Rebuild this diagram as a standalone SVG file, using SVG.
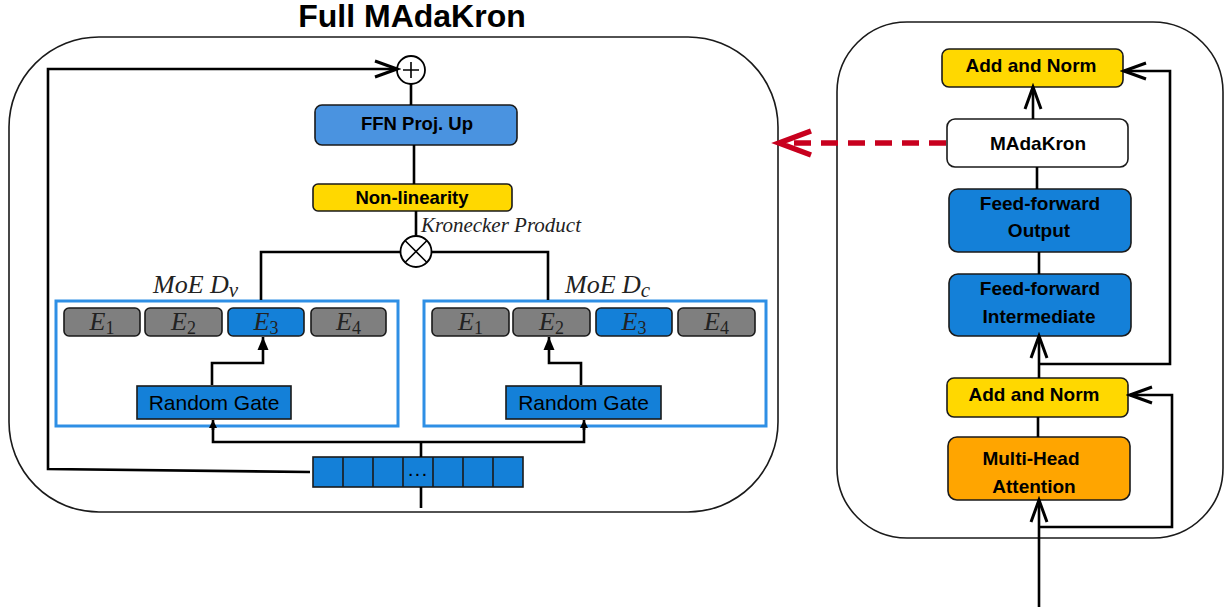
<svg xmlns="http://www.w3.org/2000/svg" width="1226" height="613" viewBox="0 0 1226 613">
<style>
.panel{fill:#fff;stroke:#1a1a1a;stroke-width:1.6}
.box{stroke:#1a1a1a;stroke-width:1.6}
.blue{fill:#1480D8}
.lblue{fill:#4A93E0}
.gold{fill:#FFD800}
.orange{fill:#FFA500}
.white{fill:#fff}
.gray{fill:#7F7F7F}
.moe{fill:#fff;stroke:#2E8FE5;stroke-width:3}
.ln{fill:none;stroke:#000;stroke-width:2.6}
.bt{font-family:"Liberation Sans",Arial,sans-serif;font-weight:bold;fill:#000;text-anchor:middle}
.rt{font-family:"Liberation Sans",Arial,sans-serif;font-size:21px;fill:#000;text-anchor:middle}
.it{font-family:"Liberation Serif","Times New Roman",serif;font-style:italic;fill:#222}
.ex{font-family:"Liberation Serif","Times New Roman",serif;font-style:italic;font-size:26px;fill:#222;text-anchor:middle}
.sub{font-style:normal;font-size:18px}
</style>
<defs>
<marker id="chev" markerUnits="userSpaceOnUse" viewBox="-26 -12 30 24" markerWidth="30" markerHeight="24" refX="0" refY="0" orient="auto">
<path d="M-22,-8 L0,0 L-22,8" fill="none" stroke="#000" stroke-width="3"/>
</marker>
<marker id="tri" markerUnits="userSpaceOnUse" viewBox="-14 -8 16 16" markerWidth="16" markerHeight="16" refX="0" refY="0" orient="auto">
<path d="M-13,-5.5 L0,0 L-13,5.5 Z" fill="#000"/>
</marker>
<marker id="tris" markerUnits="userSpaceOnUse" viewBox="-10 -6 12 12" markerWidth="12" markerHeight="12" refX="0" refY="0" orient="auto">
<path d="M-8,-4 L0,0 L-8,4 Z" fill="#000"/>
</marker>
</defs>

<text x="412" y="27" class="bt" font-size="32">Full MAdaKron</text>

<rect id="left-panel" class="panel" x="9" y="37" width="769" height="475" rx="90" ry="90"/>
<rect id="right-panel" class="panel" x="837" y="22" width="386" height="516" rx="70" ry="70"/>

<g id="plus">
<circle cx="411" cy="70" r="14" fill="#fff" stroke="#000" stroke-width="1.8"/>
<path d="M403,70 H419 M411,62 V78" stroke="#000" stroke-width="1.6"/>
</g>
<g id="ffn-proj-up">
<rect class="box lblue" x="315" y="105" width="202" height="40" rx="7"/>
<text x="417" y="130" class="bt" font-size="18.5">FFN Proj. Up</text>
</g>
<g id="non-linearity">
<rect class="box gold" x="313" y="184" width="199" height="27" rx="5"/>
<text x="412" y="203.5" class="bt" font-size="18.5">Non-linearity</text>
</g>
<g id="kronecker">
<circle cx="416" cy="251.5" r="15.5" fill="#fff" stroke="#000" stroke-width="1.8"/>
<path d="M405,240.5 L427,262.5 M427,240.5 L405,262.5" stroke="#000" stroke-width="1.6"/>
<text x="421" y="232" class="it" font-size="21">Kronecker Product</text>
</g>

<g id="moe-dv">
<text x="153" y="293" class="it" font-size="26">MoE D<tspan font-size="21" dy="4">v</tspan></text>
<rect class="moe" x="56" y="301" width="342" height="125"/>
<rect class="box gray" x="64" y="308" width="76" height="28" rx="5"/>
<rect class="box gray" x="145" y="308" width="77" height="28" rx="5"/>
<rect class="box blue" x="228" y="308" width="76" height="28" rx="5"/>
<rect class="box gray" x="311" y="308" width="75" height="28" rx="5"/>
<text x="102" y="330" class="ex">E<tspan class="sub" dy="4">1</tspan></text>
<text x="183.5" y="330" class="ex">E<tspan class="sub" dy="4">2</tspan></text>
<text x="266" y="330" class="ex">E<tspan class="sub" dy="4">3</tspan></text>
<text x="348.5" y="330" class="ex">E<tspan class="sub" dy="4">4</tspan></text>
<rect class="box blue" x="137" y="386" width="154" height="33"/>
<text x="214" y="410" class="rt">Random Gate</text>
</g>

<g id="moe-dc">
<text x="565" y="293" class="it" font-size="26">MoE D<tspan font-size="21" dy="4">c</tspan></text>
<rect class="moe" x="424" y="301" width="342" height="125"/>
<rect class="box gray" x="432" y="308" width="77" height="28" rx="5"/>
<rect class="box gray" x="513" y="308" width="77" height="28" rx="5"/>
<rect class="box blue" x="596" y="308" width="76" height="28" rx="5"/>
<rect class="box gray" x="678" y="308" width="77" height="28" rx="5"/>
<text x="470.5" y="330" class="ex">E<tspan class="sub" dy="4">1</tspan></text>
<text x="551.5" y="330" class="ex">E<tspan class="sub" dy="4">2</tspan></text>
<text x="634" y="330" class="ex">E<tspan class="sub" dy="4">3</tspan></text>
<text x="716.5" y="330" class="ex">E<tspan class="sub" dy="4">4</tspan></text>
<rect class="box blue" x="506" y="386" width="155" height="33"/>
<text x="583.5" y="410" class="rt">Random Gate</text>
</g>

<g id="tokens">
<rect class="blue" x="313" y="457" width="210" height="30" stroke="#1a1a1a" stroke-width="1.6"/>
<path d="M343,457 V487 M373,457 V487 M403,457 V487 M433,457 V487 M463,457 V487 M493,457 V487" stroke="#1a1a1a" stroke-width="1.6"/>
<text x="418" y="476" class="rt" font-size="14" letter-spacing="1">...</text>
</g>

<g id="add-norm-top">
<rect class="box gold" x="942" y="49" width="181" height="38" rx="7"/>
<text x="1031" y="72" class="bt" font-size="19">Add and Norm</text>
</g>
<g id="madakron">
<rect class="box white" x="947" y="119" width="181" height="48" rx="8"/>
<text x="1038" y="150" class="bt" font-size="19">MAdaKron</text>
</g>
<g id="ff-output">
<rect class="box blue" x="949" y="189" width="182" height="63" rx="9"/>
<text x="1040" y="210" class="bt" font-size="19">Feed-forward</text>
<text x="1039" y="237" class="bt" font-size="19">Output</text>
</g>
<g id="ff-intermediate">
<rect class="box blue" x="949" y="274" width="182" height="62" rx="9"/>
<text x="1040" y="295" class="bt" font-size="19">Feed-forward</text>
<text x="1039" y="323" class="bt" font-size="19">Intermediate</text>
</g>
<g id="add-norm-low">
<rect class="box gold" x="947" y="378" width="181" height="39" rx="7"/>
<text x="1034" y="401" class="bt" font-size="19">Add and Norm</text>
</g>
<g id="multi-head-attention">
<rect class="box orange" x="948" y="437" width="182" height="63" rx="9"/>
<text x="1031" y="465" class="bt" font-size="19">Multi-Head</text>
<text x="1034" y="493" class="bt" font-size="19">Attention</text>
</g>

<g id="connectors">
<line class="ln" x1="411" y1="84" x2="411" y2="105"/>
<line class="ln" x1="414" y1="145" x2="414" y2="184"/>
<line class="ln" x1="416" y1="211" x2="416" y2="236"/>
<polyline class="ln" points="400.5,252 261,252 261,300"/>
<polyline class="ln" points="431.5,252 548,252 548,300"/>
<polyline class="ln" points="310,472 48,469 48,69 397,69" marker-end="url(#chev)"/>
<polyline class="ln" points="212,385 212,363 263,363 263,337" marker-end="url(#tri)"/>
<polyline class="ln" points="581,385 581,363 549,363 549,337" marker-end="url(#tri)"/>
<line class="ln" x1="421" y1="457" x2="421" y2="442"/>
<polyline class="ln" points="213,428 213,442 584,442 584,428"/>
<line class="ln" x1="213" y1="430" x2="213" y2="420" marker-end="url(#tris)"/>
<line class="ln" x1="584" y1="430" x2="584" y2="420" marker-end="url(#tris)"/>
<line class="ln" x1="421" y1="487" x2="421" y2="508"/>

<line class="ln" x1="1039" y1="607" x2="1039" y2="500" marker-end="url(#chev)"/>
<polyline class="ln" points="1039,527 1172,527 1172,395 1130,395" marker-end="url(#chev)"/>
<line class="ln" x1="1038" y1="437" x2="1038" y2="417"/>
<line class="ln" x1="1039" y1="378" x2="1039" y2="336" marker-end="url(#chev)"/>
<polyline class="ln" points="1039,364 1170,364 1170,71 1124,71" marker-end="url(#chev)"/>
<line class="ln" x1="1039" y1="274" x2="1039" y2="252"/>
<line class="ln" x1="1037" y1="189" x2="1037" y2="167"/>
<line class="ln" x1="1033" y1="119" x2="1033" y2="87" marker-end="url(#chev)"/>

<line x1="946" y1="143" x2="792" y2="143" stroke="#C8001E" stroke-width="5.5" stroke-dasharray="17 10"/>
<polyline points="811,131 779,143 811,155" fill="none" stroke="#C8001E" stroke-width="5.5"/>
</g>
</svg>
